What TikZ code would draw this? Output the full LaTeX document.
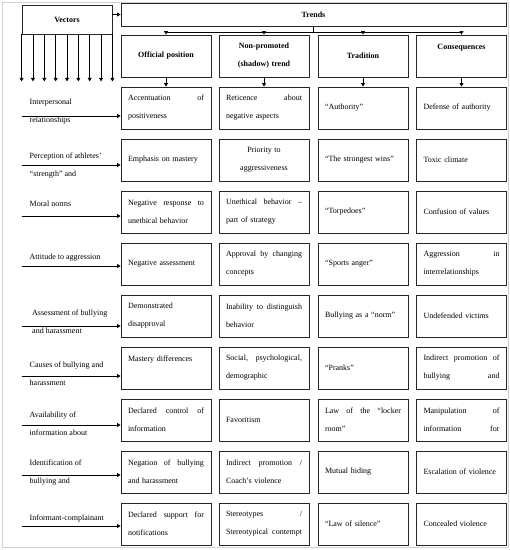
\documentclass[tikz,border=0pt]{standalone}
\usepackage{fontspec}
\setmainfont{Liberation Serif}
\usepackage{tikz}
\usetikzlibrary{arrows.meta, positioning, calc}
\newcommand{\cellfont}{\fontsize{8pt}{18pt}\selectfont}
\tikzset{
  cell/.style={draw=black!85, line width=0.8pt, minimum width=90pt, minimum height=42pt,
               text width=76pt, inner xsep=7pt, align=left, font=\cellfont},
  header/.style={cell, align=center, font=\cellfont\bfseries},
  rowlabel/.style={anchor=west, inner sep=0pt, align=left, font=\cellfont},
  arrow/.style={-{Triangle[length=3.6pt,width=4pt]}, line width=0.9pt},
  conn/.style={line width=0.9pt}
}

\begin{document}
\begin{tikzpicture}[x=1pt,y=-1pt]
        \useasboundingbox (0,0) rectangle (510,550);
        \draw[gray!35, line width=0.8pt] (2.5,2.5) rectangle (508.5,547.5);

        % top headers
        \node[header, minimum height=29pt] (vec) at (67,19.5) {Vectors};
        \node[header, minimum width=385pt, minimum height=23pt, text width=370pt] (trends) at (313.5,14.5) {Trends};

        \node[header] (h1) at (166,56) {Official position};
        \node[header] (h2) at (264,56) {Non-promoted\\(shadow) trend};
        \node[header] (h3) at (363,56) {Tradition};
        \node[header] (h4) at (461.5,56) {Consequences\\\mbox{}};

        % row 1
        \node[cell] (c11) at (166,108) {Accentuation\hfill of\\positiveness};
        \node[cell] (c12) at (264,108) {Reticence\hfill about\\negative aspects};
        \node[cell] (c13) at (363,108) {“Authority”};
        \node[cell] (c14) at (461.5,108) {Defense of authority};
        % row 2
        \node[cell] (c21) at (166,160) {Emphasis on mastery};
        \node[cell, align=center] (c22) at (264,160) {Priority to\\aggressiveness};
        \node[cell] (c23) at (363,160) {“The strongest wins”};
        \node[cell] (c24) at (461.5,160) {Toxic climate};
        % row 3
        \node[cell] (c31) at (166,212) {Negative\hfill response\hfill to\\unethical behavior};
        \node[cell] (c32) at (264,212) {Unethical\hfill behavior\hfill –\\part of strategy};
        \node[cell] (c33) at (363,212) {“Torpedoes”};
        \node[cell] (c34) at (461.5,212) {Confusion of values};
        % row 4
        \node[cell] (c41) at (166,264) {Negative assessment};
        \node[cell] (c42) at (264,264) {Approval\hfill by\hfill changing\\concepts};
        \node[cell] (c43) at (363,264) {“Sports anger”};
        \node[cell] (c44) at (461.5,264) {Aggression\hfill in\\interrelationships};
        % row 5
        \node[cell] (c51) at (166,316) {Demonstrated\\disapproval};
        \node[cell] (c52) at (264,316) {Inability\hfill to\hfill distinguish\\behavior};
        \node[cell] (c53) at (363,316) {Bullying as a “norm”};
        \node[cell] (c54) at (461.5,316) {Undefended victims};
        % row 6
        \node[cell] (c61) at (166,368) {Mastery differences\\\mbox{}};
        \node[cell] (c62) at (264,368) {Social,\hfill psychological,\\demographic};
        \node[cell] (c63) at (363,368) {“Pranks”};
        \node[cell] (c64) at (461.5,368) {Indirect\hfill promotion\hfill of\\bullying\hfill and};
        % row 7
        \node[cell] (c71) at (166,420) {Declared\hfill control\hfill of\\information};
        \node[cell] (c72) at (264,420) {Favoritism};
        \node[cell] (c73) at (363,420) {Law\hfill of\hfill the\hfill “locker\\room”};
        \node[cell] (c74) at (461.5,420) {Manipulation\hfill of\\information\hfill for};
        % row 8
        \node[cell] (c81) at (166,472) {Negation\hfill of\hfill bullying\\and harassment};
        \node[cell] (c82) at (264,472) {Indirect\hfill promotion\hfill /\\Coach’s violence};
        \node[cell] (c83) at (363,472) {Mutual hiding};
        \node[cell] (c84) at (461.5,472) {Escalation of violence};
        % row 9
        \node[cell] (c91) at (166,524) {Declared\hfill support\hfill for\\notifications};
        \node[cell] (c92) at (264,524) {Stereotypes\hfill /\\Stereotypical\hfill contempt};
        \node[cell] (c93) at (363,524) {“Law of silence”};
        \node[cell] (c94) at (461.5,524) {Concealed violence};

        % vector labels
        \node[rowlabel] (l1) at (29.5,112) {Interpersonal\\relationships};
        \node[rowlabel] (l2) at (29.5,166) {Perception of athletes’\\“strength” and};
        \node[rowlabel] (l3) at (29.5,213) {Moral norms\\\mbox{}};
        \node[rowlabel] (l4) at (29.5,266) {Attitude to aggression\\\mbox{}};
        \node[rowlabel] (l5) at (32,322) {Assessment of bullying\\and harassment};
        \node[rowlabel] (l6) at (29.5,374) {Causes of bullying and\\harassment};
        \node[rowlabel] (l7) at (29.5,424) {Availability of\\information about};
        \node[rowlabel] (l8) at (29.5,473) {Identification of\\bullying and};
        \node[rowlabel] (l9) at (29.5,527) {Informant-complainant\\\mbox{}};

        % connectors
        \draw[arrow] (trends.west -| vec.east) -- (trends.west);
        \foreach \i in {0,...,8}
          \draw[arrow] ($(vec.south west)!\i/8!(vec.south east)$) -- ++(0,47);

        \coordinate (tj) at ($(trends.south)+(0,6)$);
        \draw[conn] (trends.south) -- (tj);
        \draw[conn] (tj -| h1.north) -- (tj -| h4.north);
        \draw[arrow] (tj -| h1.north) -- (h1.north);
        \draw[arrow] (tj -| h2.north) -- (h2.north);
        \draw[arrow] (tj -| h3.north) -- (h3.north);
        \draw[arrow] (tj -| h4.north) -- (h4.north);

        \draw[arrow] (h1.south) -- (c11.north);
        \draw[arrow] (h2.south) -- (c12.north);
        \draw[arrow] (h3.south) -- (c13.north);
        \draw[arrow] (h4.south) -- (c14.north);

        \coordinate (a1) at ($(c11.west)+(0,8)$);
        \coordinate (a2) at ($(c21.west)+(0,5)$);
        \coordinate (a3) at ($(c31.west)+(0,4)$);
        \coordinate (a4) at ($(c41.west)+(0,2)$);
        \coordinate (a5) at ($(c51.west)+(0,10)$);
        \coordinate (a6) at ($(c61.west)+(0,8)$);
        \coordinate (a7) at ($(c71.west)+(0,5)$);
        \coordinate (a8) at ($(c81.west)+(0,3)$);
        \coordinate (a9) at ($(c91.west)+(0,2)$);
        \draw[arrow] (a1 -| vec.west) -- (a1);
        \draw[arrow] (a2 -| vec.west) -- (a2);
        \draw[arrow] (a3 -| vec.west) -- (a3);
        \draw[arrow] (a4 -| vec.west) -- (a4);
        \draw[arrow] (a5 -| vec.west) -- (a5);
        \draw[arrow] (a6 -| vec.west) -- (a6);
        \draw[arrow] (a7 -| vec.west) -- (a7);
        \draw[arrow] (a8 -| vec.west) -- (a8);
        \draw[arrow] (a9 -| vec.west) -- (a9);
\end{tikzpicture}
\end{document}
